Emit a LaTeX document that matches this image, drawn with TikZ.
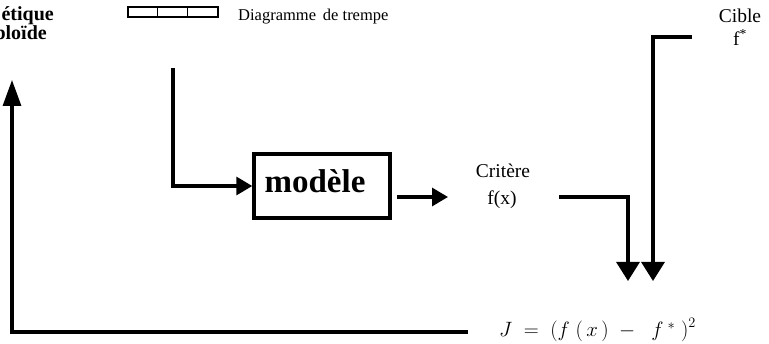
\documentclass[tikz,border=0pt]{standalone}
\usepackage{fontspec}
\setmainfont{Liberation Serif}
\usetikzlibrary{arrows.meta}
\begin{document}
\begin{tikzpicture}[x=1pt,y=-1pt,
  conn/.style={line width=3.2pt},
  tipdown/.style={-{Triangle[length=19pt,width=23pt]}},
  tipright/.style={-{Triangle[length=16pt,width=18pt]}},
  tipup/.style={-{Triangle[length=26pt,width=18pt]}},
  txt/.style={inner sep=0pt, font=\fontsize{19.5}{21}\selectfont},
  boldtxt/.style={inner sep=0pt, font=\fontsize{20}{21}\selectfont\bfseries},
  box/.style={draw, line width=3.4pt, minimum width=136pt, minimum height=64pt, inner sep=0pt}]
\useasboundingbox (0,0) rectangle (769,344);

% top-left labels (clipped at page edge)
\node[boldtxt, anchor=base east] (gen1) at (54,21) {étique};
\node[boldtxt, anchor=base east] (gen2) at (47,40) {ploïde};

% quench diagram bar
\node[draw, line width=1.3pt, minimum width=90pt, minimum height=10pt, inner sep=0pt] (bar) at (173,12) {};
\draw[line width=0.8pt] ([xshift=30pt]bar.north west) -- ([xshift=30pt]bar.south west);
\draw[line width=0.8pt] ([xshift=60pt]bar.north west) -- ([xshift=60pt]bar.south west);
\node[txt, anchor=base west, font=\fontsize{16.5}{18}\selectfont] (diag) at (238,21) {Diagramme\, de trempe};

% model
\node[box] (model) at (322,186) {};
\node[inner sep=0pt, anchor=base, font=\fontsize{33}{35}\selectfont\bfseries] (modtxt) at (315,193) {modèle};

% criterion
\node[txt, anchor=base] (crit) at (503,178) {Critère};
\node[txt, anchor=base] (critf) at (502,205) {f(x)};

% target
\node[txt, anchor=base] (cible) at (740,23) {Cible};
\node[txt, anchor=base] (fstar) at (740,46) {f\textsuperscript{*}};

% cost
\node[inner sep=0pt, anchor=base west, font=\fontsize{21}{23}\selectfont] (cost) at (499,337)
  {$J \;=\; \Bigl(f\;(\,x\,)\;-\;\; f^{\;*}\;\Bigr)^{2}$};

% coordinates
\coordinate (in1) at (173,68);
\coordinate (o1) at (397,197);
\coordinate (o2) at (448,197);
\coordinate (c1) at (559,197);
\coordinate (c2) at (628,281);
\coordinate (t1) at (692,37);
\coordinate (t2) at (653,281);
\coordinate (fb1) at (468,332);
\coordinate (fb2) at (12,80);

% connectors
\draw[conn, tipright] (in1) |- (model.west);
\draw[conn, tipright] (o1) -- (o2);
\draw[conn, tipdown] (c1) -| (c2);
\draw[conn, tipdown] (t1) -| (t2);
\draw[conn, tipup] (fb1) -| (fb2);
\end{tikzpicture}
\end{document}
